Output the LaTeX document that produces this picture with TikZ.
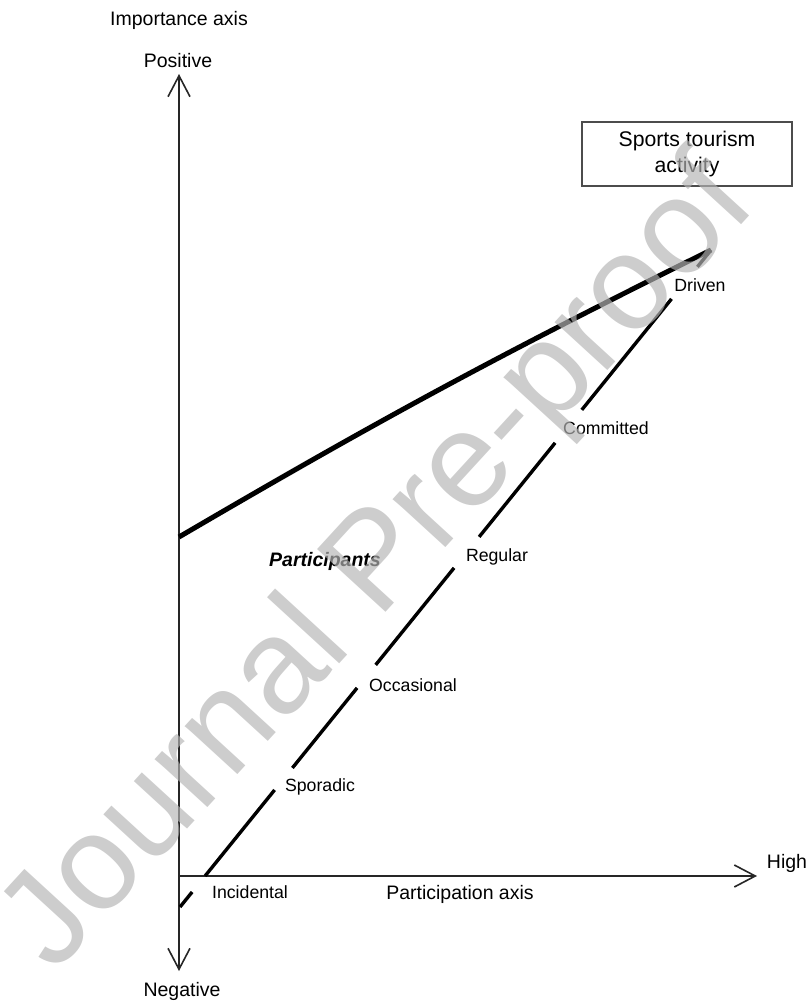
\documentclass[tikz,border=0pt]{standalone}
\usepackage{fontspec}
\setmainfont{Liberation Sans}
\usetikzlibrary{arrows.meta}
\definecolor{watermark}{RGB}{180,180,180}

\begin{document}
\begin{tikzpicture}[x=0.5pt, y=-0.5pt,
  axis/.style={draw=black!85, line width=0.8pt, -{Straight Barb[length=10.5pt, width=11pt]}},
  axislabel/.style={font=\fontsize{9.75}{11.7}\selectfont},
  stage/.style={font=\fontsize{8.85}{10.6}\selectfont}]
  \useasboundingbox (0, 0) rectangle (810, 1005);

  % Axes
  \coordinate (o) at (179, 876);
  \coordinate (top) at (179, 74);
  \coordinate (bottom) at (179, 971);
  \coordinate (right) at (757, 876);
  \coordinate (apex) at (711, 250);
  \coordinate (start) at (179, 537);
  \coordinate (foot) at (180, 907);

  \node[axislabel] (imp) at (179, 20) {Importance axis};
  \node[axislabel] (pos) at (178, 61) {Positive};
  \node[axislabel] (neg) at (182, 991) {Negative};
  \node[axislabel] (high) at (787, 863) {High};
  \node[axislabel] (part) at (460, 894) {Participation axis};
  \node[axislabel, font=\fontsize{9.75}{11.7}\selectfont\bfseries\itshape] (group) at (325, 561) {Participants};

  \node[stage] (incidental) at (250, 892) {Incidental};
  \node[stage] (sporadic) at (320, 787) {Sporadic};
  \node[stage] (occasional) at (413, 685) {Occasional};
  \node[stage] (regular) at (497, 557) {Regular};
  \node[stage] (committed) at (606, 428) {Committed};
  \node[stage] (driven) at (700, 285) {Driven};

  \node[draw=black!70, line width=1pt, minimum width=105pt, minimum height=32pt, align=center,
    font=\fontsize{10.6}{13}\selectfont] (activity) at (687, 154) {Sports tourism\\activity};

  \draw[axis] (o) -- (top);
  \draw[axis] (o) -- (bottom);
  \draw[axis] (o) -- (right);

  \draw[line width=2.5pt] (start) to[bend left=2] (apex);
  \draw[line width=1.7pt, dash pattern=on 9.65pt off 10.3pt on 55.3pt off 14.15pt on 51.45pt off 14.8pt
    on 62.35pt off 19.95pt on 60.45pt off 21.2pt on 71.35pt off 20.6pt on 11pt off 100pt] (foot) -- (apex);

  \node[font=\fontsize{67.5}{80}\selectfont, text=watermark, text opacity=0.67, rotate=47.5,
    anchor=base west, inner sep=0pt] (wm) at (54, 975) {Journal Pre-proof};
\end{tikzpicture}
\end{document}
